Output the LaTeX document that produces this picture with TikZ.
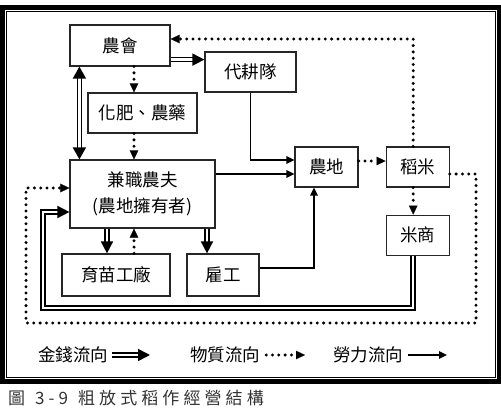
\documentclass[tikz,border=0pt]{standalone}
\usepackage{fontspec}
\newfontfamily\cjk{Noto Sans CJK TC}
\usetikzlibrary{arrows.meta, positioning, calc}

\begin{document}
\begin{tikzpicture}[
    x=1pt, y=-1pt,
    blk/.style={rectangle, draw=black!85, line width=1.2pt, inner sep=0pt,
                minimum height=40pt, align=center,
                font=\cjk\fontsize{17.5}{26}\selectfont},
    txt/.style={inner sep=0pt, font=\cjk\fontsize{17.5}{20}\selectfont},
    money/.style={draw=black, double=white, line width=1.6pt, double distance=2.3pt,
                  line join=miter, -{Triangle[length=12pt, width=12pt]}},
    goods/.style={line width=3.3pt, line cap=round, dash pattern=on 0pt off 6.3pt,
                  -{Triangle[length=9pt, width=8.5pt, line width=0.1pt]}},
    labour/.style={line width=1.6pt, -{Triangle[length=8pt, width=7.5pt]}},
]
    \useasboundingbox (0,0) rectangle (501,414);

    % frame
    \draw[line width=4.6pt] (2.3,7.5) rectangle (498.8,381.5);
    \draw[line width=1pt] (6.5,11.5) rectangle (495,377.5);

    \node[blk, minimum width=100pt, minimum height=41pt] (nonghui) at (120,45.5) {農會};
    \node[blk, minimum width=91pt]  (daigeng) at (250.5,72)  {代耕隊};
    \node[blk, minimum width=109pt] (fert)    at (142.5,113) {化肥、農藥};
    \node[blk, minimum width=145pt, minimum height=68pt] (farmer) at (142.5,194) {兼職農夫\\(農地擁有者)};
    \node[blk, minimum width=108pt, minimum height=42pt] (nursery) at (116,275) {育苗工廠};
    \node[blk, minimum width=72pt,  minimum height=42pt] (worker)  at (223,275) {雇工};
    \node[blk, minimum width=63pt] (nongdi) at (326.5,167) {農地};
    \node[blk, minimum width=63pt, right=27pt of nongdi] (daomi)   {稻米};
    \node[blk, minimum width=63pt, below=27pt of daomi]  (mishang) {米商};

    \coordinate (loopSE) at (476,323);
    \coordinate (loopSW) at (26,323);
    \coordinate (backSW) at (43,308);

    % money
    \draw[money] ([yshift=7pt]nonghui.south east) -- ([yshift=7pt]nonghui.south east -| daigeng.west);
    \draw[money, {Triangle[length=12pt, width=13pt]}-{Triangle[length=12pt, width=13pt]}]
        ([xshift=10pt]nonghui.south west) -- ([xshift=10pt]farmer.north west);
    \draw[money] ([xshift=-9pt]nursery.north |- farmer.south) -- ([xshift=-9pt]nursery.north);
    \draw[money] ([xshift=-16pt]worker.north |- farmer.south) -- ([xshift=-16pt]worker.north);
    \draw[money] ([xshift=-4.5pt]mishang.south) |- (backSW) |- ([yshift=-18pt]farmer.west);

    % goods
    \draw[goods] ([xshift=-4.5pt]daomi.north) |- ([yshift=6.5pt]nonghui.east);
    \draw[goods] ([xshift=14pt]nonghui.south) -- ([xshift=14pt]nonghui.south |- fert.north);
    \draw[goods] ([xshift=-8.5pt]fert.south) -- ([xshift=-8.5pt]farmer.north);
    \draw[goods] ([xshift=18pt]nursery.north) -- ([xshift=18pt]nursery.north |- farmer.south);
    \draw[goods] ([yshift=6pt]nongdi.east) -- ([yshift=6pt]daomi.west);
    \draw[goods] ([xshift=-4.5pt]daomi.south) -- ([xshift=-4.5pt]mishang.north);
    \draw[goods] ([yshift=-7pt]daomi.east) -| (loopSE) -- (loopSW) |- ([yshift=6pt]farmer.west);

    % labour
    \draw[labour] (daigeng.south) |- ([yshift=7pt]nongdi.west);
    \draw[labour] ([yshift=-7pt]nongdi.west -| farmer.east) -- ([yshift=-7pt]nongdi.west);
    \draw[labour] ([yshift=7pt]worker.east) -| ([xshift=-12.5pt]nongdi.south);

    % legend
    \node[txt] (legmoney)  at (73,355)  {金錢流向};
    \node[txt] (leggoods)  at (225,355) {物質流向};
    \node[txt] (leglabour) at (368,355) {勞力流向};
    \coordinate (legmoneyend)  at (150,355);
    \coordinate (leggoodsend)  at (305,355);
    \coordinate (leglabourend) at (447,355);
    \draw[money]  ([xshift=4pt]legmoney.east)  -- (legmoneyend);
    \draw[goods]  ([xshift=6pt]leggoods.east)  -- (leggoodsend);
    \draw[labour] ([xshift=5pt]leglabour.east) -- (leglabourend);

    \node[anchor=west, inner sep=0pt, text=black!80,
          font=\cjk\fontsize{17}{18}\selectfont\addfontfeature{LetterSpace=24}]
          (caption) at (8,398) {圖\hspace{10pt}3-9\hspace{10pt}粗放式稻作經營結構};
\end{tikzpicture}
\end{document}
